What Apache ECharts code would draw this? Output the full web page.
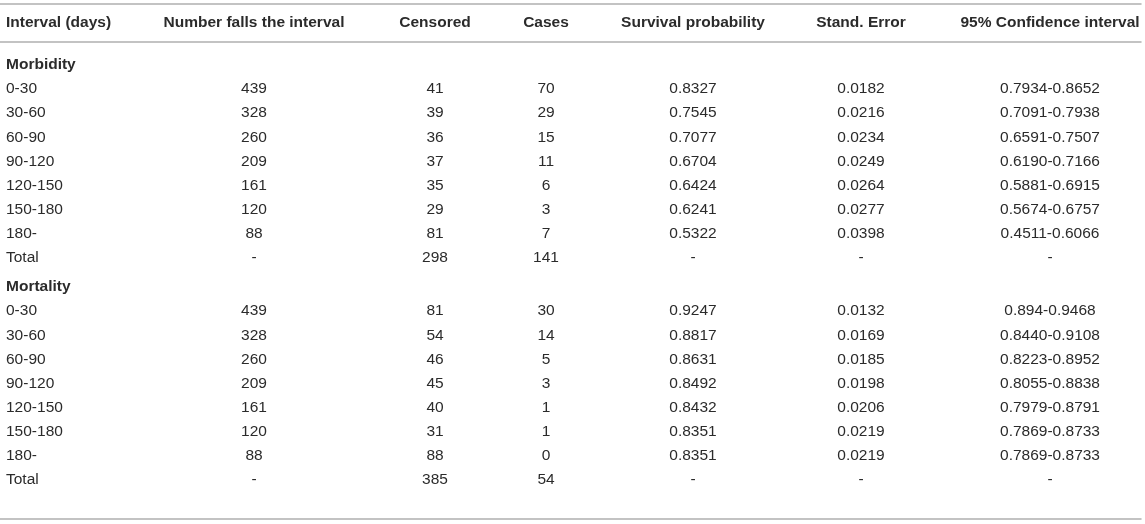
<!DOCTYPE html>
<html>
<head>
<meta charset="utf-8">
<script src="https://cdn.jsdelivr.net/npm/echarts@6/dist/echarts.min.js"></script>
<style>
  html, body { margin: 0; padding: 0; background: #fff; }
  #table { width: 1145px; height: 524px; }
</style>
</head>
<body>
<div id="table"></div>
<script>
// 表头
var headers = ['Interval (days)', 'Number falls the interval', 'Censored', 'Cases',
  'Survival probability', 'Stand. Error', '95% Confidence interval'];

// 分组
var sections = ['Morbidity', 'Mortality'];

// 时间段
var intervals = ['0-30', '30-60', '60-90', '90-120', '120-150', '150-180', '180-', 'Total'];

// Morbidity
var morbNumber = ['439', '328', '260', '209', '161', '120', '88', '-'];
var morbCensored = ['41', '39', '36', '37', '35', '29', '81', '298'];
var morbCases = ['70', '29', '15', '11', '6', '3', '7', '141'];
var morbSurvival = ['0.8327', '0.7545', '0.7077', '0.6704', '0.6424', '0.6241', '0.5322', '-'];
var morbError = ['0.0182', '0.0216', '0.0234', '0.0249', '0.0264', '0.0277', '0.0398', '-'];
var morbCI = ['0.7934-0.8652', '0.7091-0.7938', '0.6591-0.7507', '0.6190-0.7166',
  '0.5881-0.6915', '0.5674-0.6757', '0.4511-0.6066', '-'];

// Mortality
var mortNumber = ['439', '328', '260', '209', '161', '120', '88', '-'];
var mortCensored = ['81', '54', '46', '45', '40', '31', '88', '385'];
var mortCases = ['30', '14', '5', '3', '1', '1', '0', '54'];
var mortSurvival = ['0.9247', '0.8817', '0.8631', '0.8492', '0.8432', '0.8351', '0.8351', '-'];
var mortError = ['0.0132', '0.0169', '0.0185', '0.0198', '0.0206', '0.0219', '0.0219', '-'];
var mortCI = ['0.894-0.9468', '0.8440-0.9108', '0.8223-0.8952', '0.8055-0.8838',
  '0.7979-0.8791', '0.7869-0.8733', '0.7869-0.8733', '-'];

// 列的位置（布局）
var colPos = [6, 254, 435, 546, 693, 861, 1050];

var FONT = '"Liberation Sans", Arial, Helvetica, sans-serif';
var FONT_SIZE = '15.5px ';
var TEXT_COLOR = '#2b2b2b';
var LINE_COLOR = '#b0b0b0';

// 组装某一组的行
function buildSection(name, cols) {
  var rows = [name];
  var cells = [[colPos[0], 0, name, 1]];
  for (var i = 0; i < intervals.length; ++i) {
    var r = rows.length;
    rows.push(name + ' ' + intervals[i]);
    cells.push([colPos[0], r, intervals[i], 0]);
    for (var c = 0; c < cols.length; ++c) {
      cells.push([colPos[c + 1], r, cols[c][i], 0]);
    }
  }
  return { rows: rows, cells: cells };
}

var morb = buildSection(sections[0], [morbNumber, morbCensored, morbCases, morbSurvival, morbError, morbCI]);
var mort = buildSection(sections[1], [mortNumber, mortCensored, mortCases, mortSurvival, mortError, mortCI]);

var headerCells = [];
for (var i = 0; i < headers.length; ++i) {
  headerCells.push([colPos[i], 0, headers[i], 1]);
}

// 绘制单元格文字
function renderCell(params, api) {
  var pt = api.coord([api.value(0), api.value(1)]);
  var isFirst = api.value(0) === colPos[0];
  return {
    type: 'text',
    x: pt[0],
    y: pt[1],
    style: {
      text: api.value(2),
      fill: TEXT_COLOR,
      font: (api.value(3) ? 'bold ' : '') + FONT_SIZE + FONT,
      align: isFirst ? 'left' : 'center',
      verticalAlign: 'middle'
    }
  };
}

var lineStyle = { show: true, lineStyle: { color: LINE_COLOR, width: 1.5 } };
var hidden = { show: false };

function xAxisFor(gridIndex, position, showLine, offset) {
  return {
    gridIndex: gridIndex, type: 'value', min: 0, max: 1141, position: position, offset: offset || 0,
    axisLine: showLine ? lineStyle : hidden, axisTick: hidden, axisLabel: hidden, splitLine: hidden
  };
}

function yAxisFor(gridIndex, rows) {
  return {
    gridIndex: gridIndex, type: 'category', data: rows, inverse: true,
    axisLine: hidden, axisTick: hidden, axisLabel: hidden, splitLine: hidden
  };
}

var myChart = echarts.init(document.getElementById('table'), null, { renderer: 'canvas' });

var option = {
  animation: false,
  backgroundColor: '#fff',
  grid: [
    { left: 0, right: 4, top: 4, height: 38 },
    { left: 0, right: 4, top: 52.9, height: 217.1 },
    { left: 0, right: 4, top: 275, height: 217.1 }
  ],
  xAxis: [
    xAxisFor(0, 'top', true),
    xAxisFor(0, 'bottom', true),
    xAxisFor(1, 'bottom', false),
    xAxisFor(2, 'bottom', true, 26.5)
  ],
  yAxis: [
    yAxisFor(0, ['header']),
    yAxisFor(1, morb.rows),
    yAxisFor(2, mort.rows)
  ],
  series: [
    { type: 'custom', xAxisIndex: 0, yAxisIndex: 0, data: headerCells, renderItem: renderCell },
    { type: 'custom', xAxisIndex: 2, yAxisIndex: 1, data: morb.cells, renderItem: renderCell },
    { type: 'custom', xAxisIndex: 3, yAxisIndex: 2, data: mort.cells, renderItem: renderCell }
  ]
};

myChart.setOption(option);
</script>
</body>
</html>
